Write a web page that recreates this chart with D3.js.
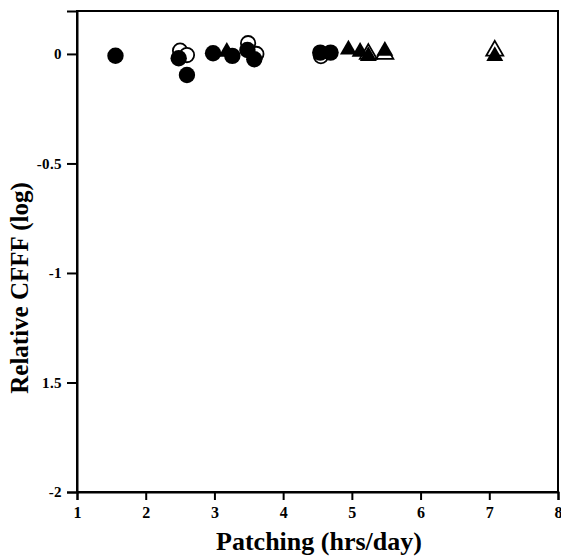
<!DOCTYPE html>
<html>
<head>
<meta charset="utf-8">
<script src="https://cdn.jsdelivr.net/npm/d3@7"></script>
<style>
  body { margin: 0; background: #fff; }
  svg { display: block; }
</style>
</head>
<body>
<div id="chart"></div>
<script>
var width = 561;
var height = 558;
var margin = {top: 11, right: 3, bottom: 66, left: 77};
var serif = '"Liberation Serif", "Times New Roman", serif';

// data
var filledCircleX = [1.56, 2.48, 2.6, 2.98, 3.26, 3.48, 3.58, 4.54, 4.69];
var filledCircleY = [-0.008, -0.02, -0.096, 0.003, -0.009, 0.018, -0.024, 0.006, 0.006];
var openCircleX = [2.5, 2.6, 3.49, 3.61, 4.55];
var openCircleY = [0.015, -0.005, 0.049, 0.0, -0.01];
var filledTriX = [3.18, 4.95, 5.12, 5.24, 5.48, 7.08];
var filledTriY = [0.01, 0.02, 0.01, -0.01, 0.014, -0.01];
var openTriX = [5.24, 5.48, 7.08];
var openTriY = [0.0, 0.0, 0.015];

var xTicks = [1, 2, 3, 4, 5, 6, 7, 8];
var yTicks = [0, -0.5, -1, -1.5, -2];
var yTickLabels = ["0", "-0.5", "-1", "1.5", "-2"];

var svg = d3.select('#chart')
  .append('svg')
  .attr('width', width)
  .attr('height', height);

var x = d3.scaleLinear().domain([1, 8]).range([margin.left, width - margin.right]);
var y = d3.scaleLinear().domain([-2, 0.196]).range([height - margin.bottom, margin.top]);

function pts(xs, ys) {
  return xs.map(function(v, i) { return {x: v, y: ys[i]}; });
}

// frame
svg.append('rect')
  .attr('x', x(1)).attr('y', y(0.196))
  .attr('width', x(8) - x(1)).attr('height', y(-2) - y(0.196))
  .attr('fill', 'none').attr('stroke', '#000').attr('stroke-width', 2);

var xAxisG = svg.append('g')
  .attr('transform', 'translate(0,' + y(-2) + ')')
  .call(d3.axisBottom(x).tickValues(xTicks).tickFormat(d3.format('d')).tickSize(8).tickPadding(7));
xAxisG.selectAll('text')
  .style('font-family', serif).style('font-weight', 'bold').style('font-size', '16px');
xAxisG.selectAll('text').filter(d => d === 8).attr('text-anchor', 'end').attr('dx', '4');

var yAxisG = svg.append('g')
  .attr('transform', 'translate(' + x(1) + ',0)')
  .call(d3.axisLeft(y).tickValues(yTicks).tickFormat(function(d, i) { return yTickLabels[i]; }).tickSize(10).tickPadding(5));
yAxisG.selectAll('text')
  .style('font-family', serif).style('font-weight', 'bold').style('font-size', '15px')
  .style('letter-spacing', '0.4px');

svg.selectAll('.domain').attr('stroke-width', 2);
svg.selectAll('.tick line').attr('stroke-width', 2);

// markers: open first, filled on top
svg.selectAll('.ocirc')
  .data(pts(openCircleX, openCircleY))
  .enter().append('circle')
  .attr('cx', d => x(d.x)).attr('cy', d => y(d.y))
  .attr('r', 7.2)
  .attr('fill', '#fff').attr('stroke', '#000').attr('stroke-width', 1.8);

var tri = d3.symbol().type(d3.symbolTriangle).size(125);

svg.selectAll('.otri')
  .data(pts(openTriX, openTriY))
  .enter().append('path')
  .attr('d', tri)
  .attr('transform', d => 'translate(' + x(d.x) + ',' + y(d.y) + ')')
  .attr('fill', '#fff').attr('stroke', '#000').attr('stroke-width', 1.8);

svg.selectAll('.fcirc')
  .data(pts(filledCircleX, filledCircleY))
  .enter().append('circle')
  .attr('cx', d => x(d.x)).attr('cy', d => y(d.y))
  .attr('r', 8.2)
  .attr('fill', '#000');

svg.selectAll('.ftri')
  .data(pts(filledTriX, filledTriY))
  .enter().append('path')
  .attr('d', tri)
  .attr('transform', d => 'translate(' + x(d.x) + ',' + y(d.y) + ')')
  .attr('fill', '#000');

// titles
svg.append('text')
  .attr('x', 319)
  .attr('y', 550)
  .attr('text-anchor', 'middle')
  .style('font-family', serif).style('font-weight', 'bold').style('font-size', '26px')
  .text('Patching (hrs/day)');

svg.append('text')
  .attr('transform', 'translate(28,288) rotate(-90)')
  .attr('text-anchor', 'middle')
  .style('font-family', serif).style('font-weight', 'bold').style('font-size', '25px')
  .text('Relative CFFF (log)');
</script>
</body>
</html>
